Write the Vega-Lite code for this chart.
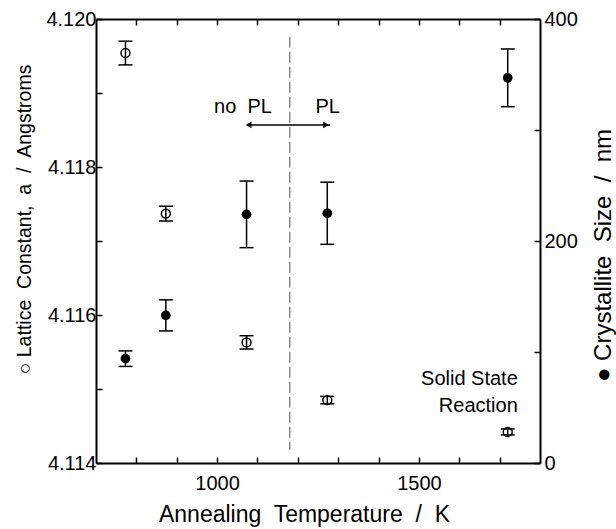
{
  "$schema": "https://vega.github.io/schema/vega-lite/v6.json",
  "width": 444,
  "height": 444,
  "autosize": {"type": "none"},
  "padding": {"left": 96, "top": 19, "right": 76, "bottom": 66},
  "background": "white",
  "config": {
    "view": {"stroke": null},
    "font": "Liberation Sans",
    "axis": {
      "labelFont": "Liberation Sans",
      "titleFont": "Liberation Sans",
      "labelFontSize": 20,
      "titleFontSize": 21,
      "titleFontWeight": "normal",
      "labelColor": "black",
      "titleColor": "black",
      "domainColor": "black",
      "tickColor": "black",
      "domainWidth": 2,
      "tickWidth": 1.5,
      "grid": false
    }
  },
  "datasets": {
    "lattice": [
      {"T": 773, "a": 4.11954, "a_lo": 4.11938, "a_hi": 4.11970},
      {"T": 873, "a": 4.11737, "a_lo": 4.11727, "a_hi": 4.11747},
      {"T": 1073, "a": 4.11563, "a_lo": 4.11554, "a_hi": 4.11572},
      {"T": 1273, "a": 4.11485, "a_lo": 4.11480, "a_hi": 4.11490},
      {"T": 1720, "a": 4.11442, "a_lo": 4.11438, "a_hi": 4.11446}
    ],
    "crystal": [
      {"T": 773, "s": 94, "s_lo": 87, "s_hi": 101},
      {"T": 873, "s": 133, "s_lo": 119, "s_hi": 147},
      {"T": 1073, "s": 224, "s_lo": 194, "s_hi": 254},
      {"T": 1273, "s": 225, "s_lo": 197, "s_hi": 253},
      {"T": 1720, "s": 347, "s_lo": 321, "s_hi": 373}
    ],
    "divider": [{"T": 1180, "y1": 4.11976, "y2": 4.11418}],
    "arrow": [{"x1": 1075, "x2": 1280, "y": 4.118568}],
    "heads": [
      {"T": 1078, "y": 4.118568, "shape": "triangle-left"},
      {"T": 1270, "y": 4.118568, "shape": "triangle-right"}
    ],
    "labels": [
      {"T": 1064, "y": 4.11873, "text": "no\u00a0 PL"},
      {"T": 1274, "y": 4.11873, "text": "PL"}
    ],
    "ssr": [{"T": 1745, "y": 4.115054, "text": "Solid State\nReaction"}]
  },
  "layer": [
    {
      "layer": [
        {
          "data": {"name": "divider"},
          "mark": {"type": "rule", "color": "#888888", "strokeWidth": 1.5, "strokeDash": [11, 4]},
          "encoding": {
            "x": {"field": "T", "type": "quantitative", "scale": {"domain": [700, 1800]}},
            "y": {"field": "y1", "type": "quantitative", "scale": {"domain": [4.114, 4.12]}},
            "y2": {"field": "y2"}
          }
        },
        {
          "data": {"name": "arrow"},
          "mark": {"type": "rule", "color": "black", "strokeWidth": 1.5},
          "encoding": {
            "x": {"field": "x1", "type": "quantitative"},
            "x2": {"field": "x2"},
            "y": {"field": "y", "type": "quantitative"}
          }
        },
        {
          "data": {"name": "heads"},
          "mark": {"type": "point", "filled": true, "color": "black", "size": 45, "opacity": 1},
          "encoding": {
            "x": {"field": "T", "type": "quantitative"},
            "y": {"field": "y", "type": "quantitative"},
            "shape": {"field": "shape", "type": "nominal", "scale": null, "legend": null}
          }
        },
        {
          "data": {"name": "labels"},
          "mark": {"type": "text", "fontSize": 20, "font": "Liberation Sans", "baseline": "alphabetic", "align": "center", "color": "black"},
          "encoding": {
            "x": {"field": "T", "type": "quantitative"},
            "y": {"field": "y", "type": "quantitative"},
            "text": {"field": "text"}
          }
        },
        {
          "data": {"name": "ssr"},
          "mark": {"type": "text", "fontSize": 20, "font": "Liberation Sans", "baseline": "alphabetic", "align": "right", "lineBreak": "\n", "lineHeight": 27, "color": "black"},
          "encoding": {
            "x": {"field": "T", "type": "quantitative"},
            "y": {"field": "y", "type": "quantitative"},
            "text": {"field": "text"}
          }
        },
        {
          "data": {"name": "lattice"},
          "mark": {"type": "rule", "color": "black", "strokeWidth": 1.5},
          "encoding": {
            "x": {"field": "T", "type": "quantitative"},
            "y": {"field": "a_lo", "type": "quantitative"},
            "y2": {"field": "a_hi"}
          }
        },
        {
          "data": {"name": "lattice"},
          "mark": {"type": "tick", "orient": "horizontal", "color": "black", "size": 14, "thickness": 1.5, "opacity": 1},
          "encoding": {
            "x": {"field": "T", "type": "quantitative"},
            "y": {"field": "a_lo", "type": "quantitative"}
          }
        },
        {
          "data": {"name": "lattice"},
          "mark": {"type": "tick", "orient": "horizontal", "color": "black", "size": 14, "thickness": 1.5, "opacity": 1},
          "encoding": {
            "x": {"field": "T", "type": "quantitative"},
            "y": {"field": "a_hi", "type": "quantitative"}
          }
        },
        {
          "data": {"name": "lattice"},
          "mark": {"type": "point", "filled": false, "color": "black", "strokeWidth": 1.5, "size": 80, "opacity": 1},
          "encoding": {
            "x": {
              "field": "T", "type": "quantitative",
              "axis": {
                "orient": "bottom",
                "title": "Annealing\u00a0 Temperature\u00a0 /\u00a0 K",
                "titleFontSize": 23,
                "values": [800, 900, 1000, 1100, 1200, 1300, 1400, 1500, 1600, 1700],
                "format": "d",
                "labelExpr": "datum.value == 1000 || datum.value == 1500 ? datum.label : ''",
                "tickSize": -6,
                "labelPadding": 16,
                "titleBaseline": "alphabetic",
                "titleY": 58,
                "titleX": 208
              }
            },
            "y": {
              "field": "a", "type": "quantitative",
              "axis": {
                "orient": "left",
                "title": "\u25cb Lattice\u00a0 Constant,\u00a0 a\u00a0 /\u00a0 Angstroms",
                "titleFontSize": 19.5,
                "values": [4.114, 4.115, 4.116, 4.117, 4.118, 4.119, 4.12],
                "format": ".3f",
                "labelExpr": "indexof(['4.114','4.116','4.118','4.120'], datum.label) >= 0 ? datum.label : ''",
                "tickSize": -6,
                "labelPadding": 6,
                "titleAngle": -90,
                "titleBaseline": "middle",
                "titleX": -72,
                "titleY": 200
              }
            }
          }
        }
      ]
    },
    {
      "layer": [
        {
          "data": {"name": "crystal"},
          "mark": {"type": "rule", "color": "black", "strokeWidth": 1.5},
          "encoding": {
            "x": {"field": "T", "type": "quantitative"},
            "y": {"field": "s_lo", "type": "quantitative", "scale": {"domain": [0, 400]}},
            "y2": {"field": "s_hi"}
          }
        },
        {
          "data": {"name": "crystal"},
          "mark": {"type": "tick", "orient": "horizontal", "color": "black", "size": 14, "thickness": 1.5, "opacity": 1},
          "encoding": {
            "x": {"field": "T", "type": "quantitative"},
            "y": {"field": "s_lo", "type": "quantitative"}
          }
        },
        {
          "data": {"name": "crystal"},
          "mark": {"type": "tick", "orient": "horizontal", "color": "black", "size": 14, "thickness": 1.5, "opacity": 1},
          "encoding": {
            "x": {"field": "T", "type": "quantitative"},
            "y": {"field": "s_hi", "type": "quantitative"}
          }
        },
        {
          "data": {"name": "crystal"},
          "mark": {"type": "point", "filled": true, "color": "black", "size": 95, "opacity": 1},
          "encoding": {
            "x": {
              "field": "T", "type": "quantitative",
              "axis": {
                "orient": "top",
                "title": null,
                "labels": false,
                "values": [800, 900, 1000, 1100, 1200, 1300, 1400, 1500, 1600, 1700],
                "tickSize": -6
              }
            },
            "y": {
              "field": "s", "type": "quantitative",
              "axis": {
                "orient": "right",
                "title": "\u25cf Crystallite\u00a0 Size\u00a0 /\u00a0 nm",
                "titleFontSize": 24,
                "values": [0, 100, 200, 300, 400],
                "labelExpr": "datum.value % 200 == 0 ? datum.label : ''",
                "tickSize": -6,
                "labelPadding": 10,
                "titleAngle": -90,
                "titleBaseline": "middle",
                "titleX": 63,
                "titleY": 236
              }
            }
          }
        }
      ]
    }
  ],
  "resolve": {
    "scale": {"y": "independent"},
    "axis": {"x": "independent", "y": "independent"}
  }
}
